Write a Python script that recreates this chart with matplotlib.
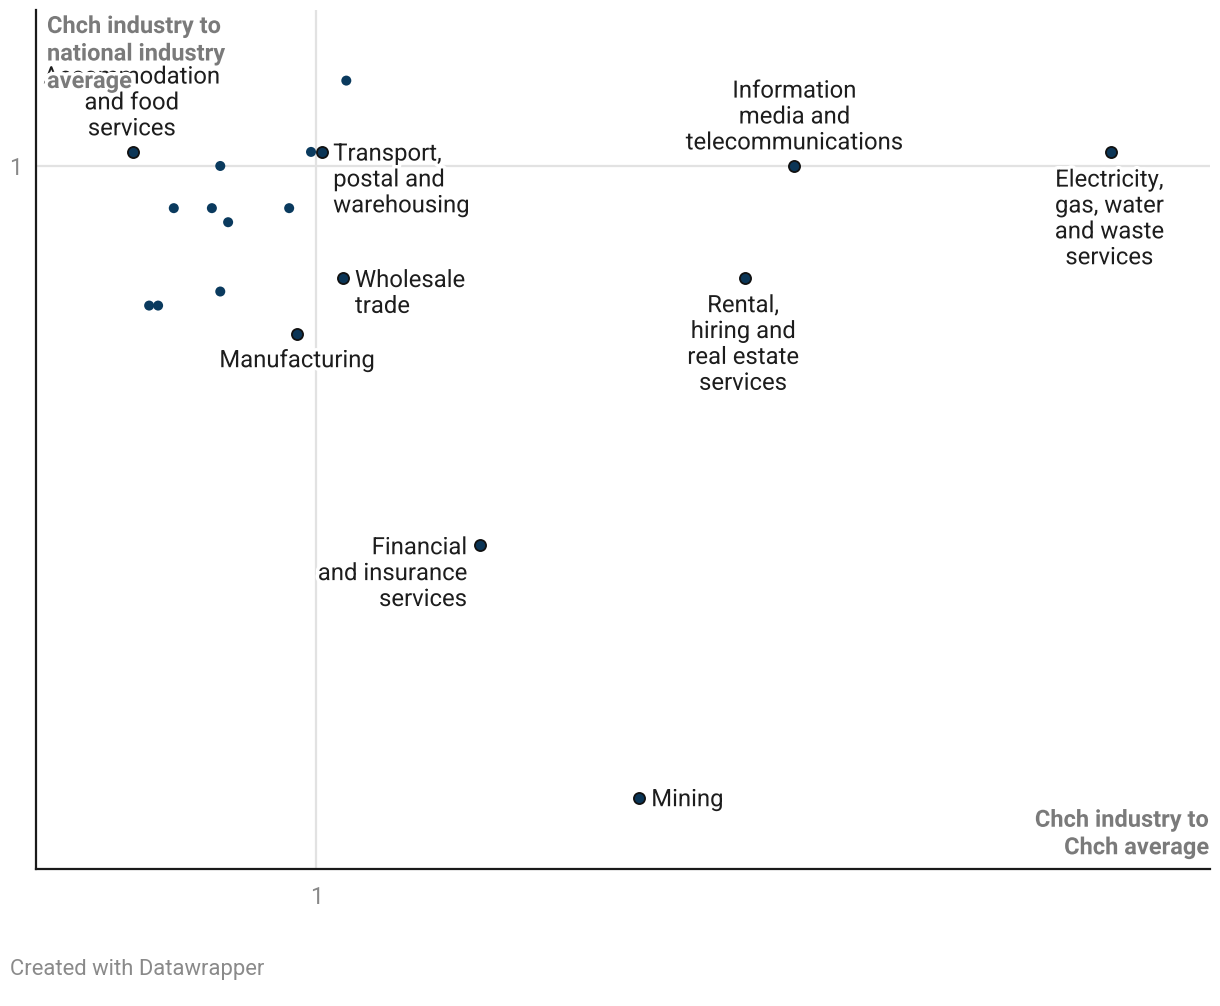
import matplotlib
matplotlib.use("Agg")
import matplotlib.pyplot as plt
import matplotlib.patheffects as pe

plt.rcParams['font.family'] = ['Roboto', 'DejaVu Sans']

# Labeled industries
lab_names = ["Accommodation\nand food\nservices",
             "Transport,\npostal and\nwarehousing",
             "Wholesale\ntrade",
             "Manufacturing",
             "Financial\nand insurance\nservices",
             "Mining",
             "Information\nmedia and\ntelecommunications",
             "Rental,\nhiring and\nreal estate\nservices",
             "Electricity,\ngas, water\nand waste\nservices"]
lab_x = [0.673, 1.011, 1.048, 0.966, 1.293, 1.577, 1.854, 1.766, 2.420]
lab_y = [1.014, 1.014, 0.888, 0.833, 0.623, 0.371, 1.000, 0.888, 1.014]

# Unlabeled industries
other_x = [0.829, 0.991, 1.054, 0.746, 0.814, 0.952, 0.843, 0.702, 0.718, 0.829]
other_y = [1.000, 1.014, 1.085, 0.958, 0.958, 0.958, 0.944, 0.861, 0.861, 0.875]

x_ticks = [1]
y_ticks = [1]

fig = plt.figure(figsize=(12.2, 10.06), dpi=100)
ax = fig.add_axes([36/1220, 1 - 869/1006, (1210-36)/1220, (869-10)/1006])
ax.set_xlim(0.5, 2.596)
ax.set_ylim(0.3, 1.1553)

for s in ['top', 'right']:
    ax.spines[s].set_visible(False)
for s in ['left', 'bottom']:
    ax.spines[s].set_color('#1a1a1a')
    ax.spines[s].set_linewidth(1.6)

ax.set_xticks(x_ticks)
ax.set_yticks(y_ticks)
ax.set_xticklabels([str(v) for v in x_ticks])
ax.set_yticklabels([str(v) for v in y_ticks])
ax.tick_params(length=0, labelsize=16.5, colors='#888888')
ax.tick_params(axis='x', pad=12)
ax.tick_params(axis='y', pad=10)
for lbl in ax.get_xticklabels() + ax.get_yticklabels():
    lbl.set_color('#888888')

ax.axvline(1, color='#e2e2e2', lw=1.6, zorder=0)
ax.axhline(1, color='#e2e2e2', lw=1.6, zorder=0)

ax.scatter(other_x, other_y, s=52, color='#0a3a5e', edgecolors='none', zorder=3)
ax.scatter(lab_x, lab_y, s=64, color='#0b3556', edgecolors='#111111', linewidths=1.3, zorder=4)

halo = [pe.withStroke(linewidth=5, foreground='white')]
# (dx, dy) pixel offsets of the text block centre, ha
layout = [
    (-1, 49, 'center'),
    (11, -28, 'left'),
    (12, -15, 'left'),
    (0, -27, 'center'),
    (-13, -29, 'right'),
    (12, -2, 'left'),
    (0, 49, 'center'),
    (-2, -66, 'center'),
    (-2, -67, 'center'),
]
for name, x, y, (dx, dy, ha) in zip(lab_names, lab_x, lab_y, layout):
    ax.annotate(name, (x, y), xytext=(dx, dy), textcoords='offset pixels',
                ha=ha, va='center', multialignment=ha, fontsize=17.2, color='#1d1d1d',
                linespacing=1.16, path_effects=halo, zorder=5)

fig.text(47/1220, 1 - 54/1006, "Chch industry to\nnational industry\naverage",
         ha='left', va='center', fontsize=17.0, fontweight='bold', color='#7a7a7a',
         linespacing=1.25, path_effects=halo, zorder=10)
fig.text(1209/1220, 1 - 834/1006, "Chch industry to\nChch average",
         ha='right', va='center', fontsize=17.0, fontweight='bold', color='#7a7a7a',
         linespacing=1.25, path_effects=halo, zorder=10)
fig.text(10/1220, 1 - 970/1006, "Created with Datawrapper", ha='left', va='center',
         fontsize=15.8, color='#8a8a8a')

fig.savefig("out.png", dpi=100, facecolor='white')
